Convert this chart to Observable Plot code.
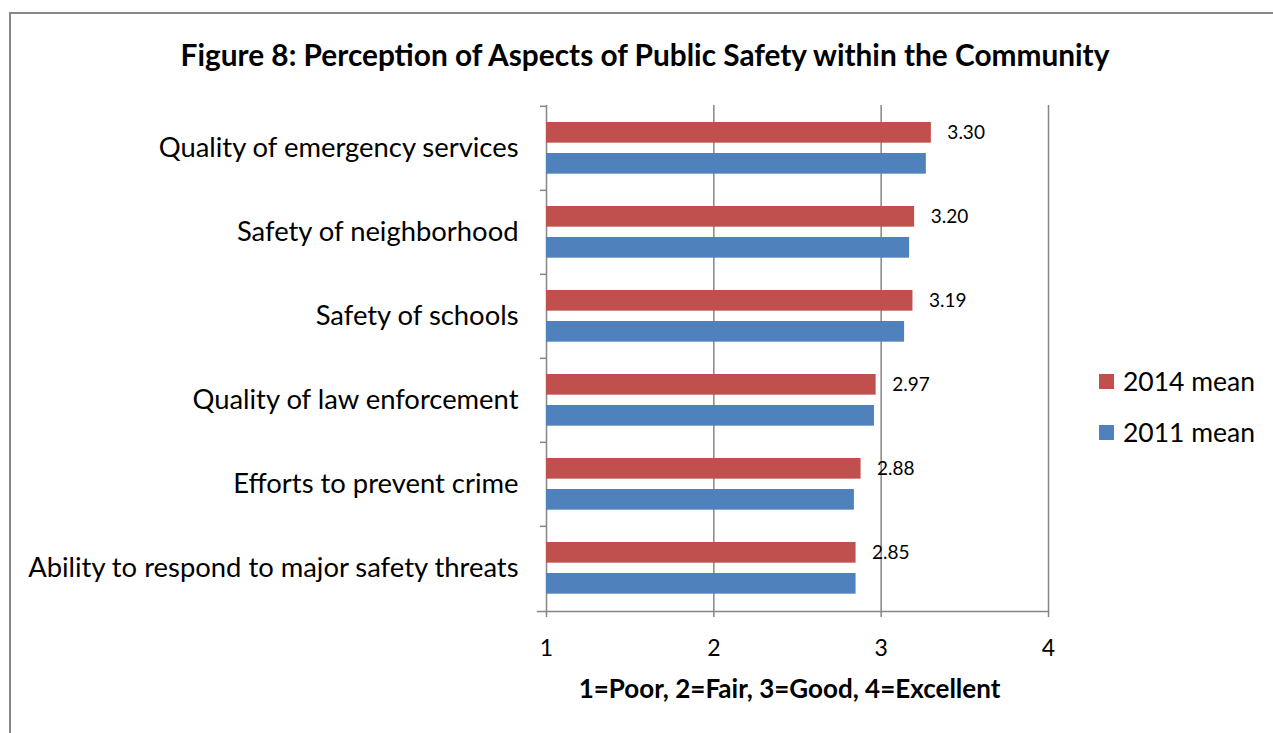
<!DOCTYPE html>
<html>
<head>
<meta charset="utf-8">
<script src="https://cdn.jsdelivr.net/npm/d3@7"></script>
<script src="https://cdn.jsdelivr.net/npm/@observablehq/plot@0.6"></script>
<style>
  html, body { margin: 0; padding: 0; background: #fff; overflow: hidden; width: 1273px; height: 733px; }
  body { position: relative; font-family: Lato, "Open Sans", sans-serif; color: #000; }
  #frame { position: absolute; z-index: 5; pointer-events: none; left: 9px; top: 12px; width: 1400px; height: 900px; border-left: 2px solid #878787; border-top: 2px solid #878787; box-sizing: border-box; }
  #title { position: absolute; left: 0; top: 36px; width: 1290px; text-align: center; font-weight: bold; font-size: 29.8px; line-height: 38px; }
  #chart { position: absolute; left: 0; top: 80px; }
  #legend { position: absolute; left: 1099px; top: 366px; font-size: 26.5px; }
  .item { display: flex; align-items: center; height: 30px; margin-bottom: 21px; }
  .sw { width: 15px; height: 15px; margin-right: 9px; }
</style>
</head>
<body>
<div id="frame"></div>
<div id="title">Figure 8: Perception of Aspects of Public Safety within the Community</div>
<div id="chart"></div>
<div id="legend"></div>
<script>
const categories = [
  "Quality of emergency services",
  "Safety of neighborhood",
  "Safety of schools",
  "Quality of law enforcement",
  "Efforts to prevent crime",
  "Ability to respond to major safety threats"
];
const mean2014 = [3.30, 3.20, 3.19, 2.97, 2.88, 2.85];
const mean2011 = [3.27, 3.17, 3.14, 2.96, 2.84, 2.85];
const seriesNames = ["2014 mean", "2011 mean"];
const seriesColors = ["#C0504D", "#4F81BD"];
const xTicks = [1, 2, 3, 4];
const xTitle = "1=Poor, 2=Fair, 3=Good, 4=Excellent";

const rows2014 = categories.map((c, i) => ({category: c, value: mean2014[i]}));
const rows2011 = categories.map((c, i) => ({category: c, value: mean2011[i]}));

const W = 1273, H = 640, mL = 546, mR = 225, mT = 25, mB = 109;
const band = (H - mT - mB) / categories.length;
const gray = "#868686";

const chart = Plot.plot({
  width: W, height: H,
  marginLeft: mL, marginRight: mR, marginTop: mT, marginBottom: mB,
  style: {fontFamily: "Lato, 'Open Sans', sans-serif", color: "#000", background: "transparent"},
  x: {domain: [1, 4], ticks: xTicks},
  y: {domain: categories, paddingInner: 0, paddingOuter: 0},
  marks: [
    Plot.gridX(xTicks, {stroke: gray, strokeOpacity: 1, strokeWidth: 1.5}),
    Plot.frame({anchor: "bottom", stroke: gray, strokeWidth: 1.5, insetLeft: -9}),
    Plot.barX(rows2014, {y: "category", x1: 1, x2: "value", fill: seriesColors[0], insetTop: 16, insetBottom: band - 37}),
    Plot.barX(rows2011, {y: "category", x1: 1, x2: "value", fill: seriesColors[1], insetTop: 47, insetBottom: band - 68}),
    Plot.text(rows2014, {y: "category", x: "value", text: d => d.value.toFixed(2), dx: 16, dy: -(band / 2 - 26.5), textAnchor: "start", fontSize: 19, fill: "#000"}),
    Plot.axisX({ticks: xTicks, tickFormat: d => String(d), tickSize: 6, tickPadding: 22, fontSize: 23, stroke: gray, strokeWidth: 1.5, label: null}),
    Plot.axisY({tickSize: 0, tickPadding: 28, fontSize: 27.4, label: null}),
    Plot.axisY({tickSize: 6, tickFormat: null, dy: -band / 2, stroke: gray, strokeWidth: 1.5, label: null}),
    Plot.text([xTitle], {frameAnchor: "bottom", dy: 86, dx: -8, fontWeight: "bold", fontSize: 26, fill: "#000"})
  ]
});
document.getElementById("chart").appendChild(chart);

const legend = document.getElementById("legend");
seriesNames.forEach((name, i) => {
  const item = document.createElement("div");
  item.className = "item";
  const sw = document.createElement("div");
  sw.className = "sw";
  sw.style.background = seriesColors[i];
  const label = document.createElement("span");
  label.textContent = name;
  item.appendChild(sw);
  item.appendChild(label);
  legend.appendChild(item);
});
</script>
</body>
</html>
